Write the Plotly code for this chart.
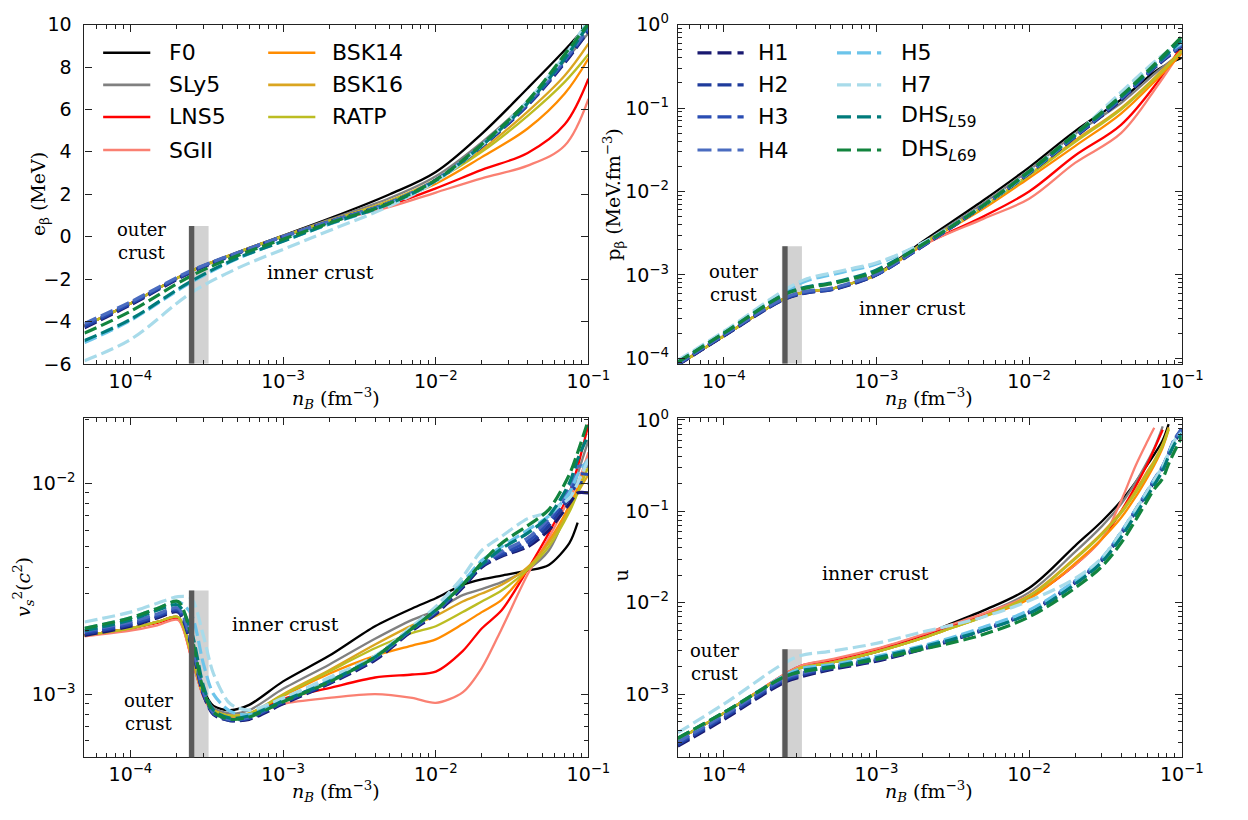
import plotly.graph_objects as go

# ---------------- data ----------------
SOLID = ["F0", "SLy5", "LNS5", "SGII", "BSK14", "BSK16", "RATP"]
DASHED = ["H1", "H2", "H3", "H4", "H5", "H7", "DHS_L59", "DHS_L69"]
LABELS = {"F0": "F0", "SLy5": "SLy5", "LNS5": "LNS5", "SGII": "SGII", "BSK14": "BSK14",
          "BSK16": "BSK16", "RATP": "RATP", "H1": "H1", "H2": "H2", "H3": "H3", "H4": "H4",
          "H5": "H5", "H7": "H7", "DHS_L59": "DHS<sub><i>L</i>59</sub>",
          "DHS_L69": "DHS<sub><i>L</i>69</sub>"}
COLORS = {"F0": "#000000", "SLy5": "#808080", "LNS5": "#ff0000", "SGII": "#fa8072",
          "BSK14": "#ff8c00", "BSK16": "#daa520", "RATP": "#bcbd22",
          "H1": "#191970", "H2": "#1f3c9c", "H3": "#2a4db3", "H4": "#4a6cc0",
          "H5": "#6cc4ea", "H7": "#a8dbea", "DHS_L59": "#007b7b", "DHS_L69": "#12843e"}

# top-left: e_beta (MeV)
X_E = [5e-5, 1e-4, 2.5e-4, 5e-4, 1e-3, 2e-3, 5e-3, 1e-2, 2e-2, 4e-2, 7e-2, 1e-1]
E_BETA = {
    "F0":      [-4.20, -3.15, -1.62, -0.75, 0.05, 0.85, 2.00, 3.05, 4.85, 7.00, 8.80, 10.05],
    "SLy5":    [-4.20, -3.15, -1.62, -0.75, 0.03, 0.80, 1.82, 2.85, 4.45, 6.40, 8.30, 9.60],
    "LNS5":    [-4.20, -3.15, -1.62, -0.76, 0.02, 0.70, 1.50, 2.28, 3.15, 3.95, 5.30, 7.45],
    "SGII":    [-4.20, -3.15, -1.62, -0.76, 0.00, 0.68, 1.40, 2.08, 2.75, 3.35, 4.30, 6.50],
    "BSK14":   [-4.20, -3.15, -1.62, -0.75, 0.02, 0.72, 1.62, 2.50, 3.75, 5.10, 6.75, 8.40],
    "BSK16":   [-4.20, -3.15, -1.62, -0.75, 0.03, 0.75, 1.70, 2.70, 4.10, 5.90, 7.60, 9.10],
    "RATP":    [-4.20, -3.15, -1.62, -0.75, 0.03, 0.74, 1.68, 2.66, 4.00, 5.70, 7.30, 8.60],
    "H1":      [-4.30, -3.22, -1.68, -0.80, 0.00, 0.70, 1.60, 2.65, 4.25, 6.20, 8.20, 9.70],
    "H2":      [-4.25, -3.18, -1.65, -0.79, 0.00, 0.70, 1.60, 2.65, 4.27, 6.22, 8.25, 9.75],
    "H3":      [-4.18, -3.14, -1.63, -0.78, 0.00, 0.70, 1.60, 2.67, 4.30, 6.25, 8.30, 9.80],
    "H4":      [-4.10, -3.08, -1.60, -0.76, 0.01, 0.71, 1.61, 2.68, 4.33, 6.30, 8.35, 9.85],
    "H5":      [-5.00, -3.95, -2.15, -1.05, -0.20, 0.58, 1.55, 2.63, 4.30, 6.35, 8.50, 10.20],
    "H7":      [-5.85, -4.85, -2.65, -1.50, -0.60, 0.28, 1.45, 2.60, 4.30, 6.40, 8.55, 10.20],
    "DHS_L59": [-4.90, -3.90, -2.10, -1.02, -0.22, 0.60, 1.56, 2.65, 4.30, 6.30, 8.40, 10.00],
    "DHS_L69": [-4.55, -3.52, -1.85, -0.90, -0.12, 0.64, 1.58, 2.67, 4.35, 6.40, 8.60, 10.05],
}

# top-right: p_beta (MeV.fm^-3)
X_P = [5e-5, 1e-4, 2.5e-4, 3.5e-4, 5e-4, 7e-4, 1e-3, 2e-3, 5e-3, 1e-2, 2e-2, 4e-2, 7e-2, 1e-1]
P_BETA = {
    "F0":      [8.3e-5, 1.85e-4, 5.2e-4, 6.3e-4, 6.8e-4, 8.0e-4, 1.02e-3, 2.5e-3, 7.8e-3, 1.95e-2, 5.3e-2, 1.26e-1, 2.9e-1, 4.0e-1],
    "SLy5":    [8.3e-5, 1.85e-4, 5.2e-4, 6.3e-4, 6.8e-4, 8.0e-4, 1.01e-3, 2.4e-3, 7.2e-3, 1.8e-2, 4.9e-2, 1.15e-1, 2.8e-1, 4.6e-1],
    "LNS5":    [8.3e-5, 1.85e-4, 5.2e-4, 6.3e-4, 6.8e-4, 8.0e-4, 1.0e-3, 2.25e-3, 5.0e-3, 1.0e-2, 2.7e-2, 6.3e-2, 2.1e-1, 5.6e-1],
    "SGII":    [8.3e-5, 1.85e-4, 5.2e-4, 6.3e-4, 6.8e-4, 8.0e-4, 1.0e-3, 2.25e-3, 4.7e-3, 8.2e-3, 2.2e-2, 5.0e-2, 1.9e-1, 5.0e-1],
    "BSK14":   [8.3e-5, 1.85e-4, 5.2e-4, 6.3e-4, 6.8e-4, 8.0e-4, 1.0e-3, 2.3e-3, 6.2e-3, 1.45e-2, 3.5e-2, 8.6e-2, 2.3e-1, 4.5e-1],
    "BSK16":   [8.3e-5, 1.85e-4, 5.2e-4, 6.3e-4, 6.8e-4, 8.0e-4, 1.0e-3, 2.35e-3, 6.6e-3, 1.6e-2, 4.1e-2, 1.0e-1, 2.55e-1, 5.0e-1],
    "RATP":    [8.3e-5, 1.85e-4, 5.2e-4, 6.3e-4, 6.8e-4, 8.0e-4, 1.0e-3, 2.35e-3, 6.5e-3, 1.55e-2, 3.9e-2, 9.6e-2, 2.45e-1, 4.8e-1],
    "H1":      [8.3e-5, 1.85e-4, 5.1e-4, 6.1e-4, 6.6e-4, 7.8e-4, 1.0e-3, 2.2e-3, 6.7e-3, 1.65e-2, 4.5e-2, 1.25e-1, 3.3e-1, 5.5e-1],
    "H2":      [8.4e-5, 1.87e-4, 5.15e-4, 6.15e-4, 6.65e-4, 7.9e-4, 1.0e-3, 2.2e-3, 6.7e-3, 1.66e-2, 4.55e-2, 1.27e-1, 3.35e-1, 5.6e-1],
    "H3":      [8.5e-5, 1.9e-4, 5.2e-4, 6.2e-4, 6.7e-4, 8.0e-4, 1.01e-3, 2.22e-3, 6.75e-3, 1.67e-2, 4.6e-2, 1.3e-1, 3.4e-1, 5.7e-1],
    "H4":      [8.6e-5, 1.92e-4, 5.3e-4, 6.4e-4, 6.9e-4, 8.2e-4, 1.03e-3, 2.25e-3, 6.8e-3, 1.68e-2, 4.65e-2, 1.32e-1, 3.45e-1, 5.8e-1],
    "H5":      [9.3e-5, 2.05e-4, 6.3e-4, 8.5e-4, 1.0e-3, 1.15e-3, 1.35e-3, 2.4e-3, 6.8e-3, 1.7e-2, 4.8e-2, 1.5e-1, 3.8e-1, 6.0e-1],
    "H7":      [9.5e-5, 2.1e-4, 6.6e-4, 9.0e-4, 1.05e-3, 1.2e-3, 1.4e-3, 2.4e-3, 6.8e-3, 1.7e-2, 4.8e-2, 1.55e-1, 3.9e-1, 6.2e-1],
    "DHS_L59": [9.0e-5, 2.0e-4, 5.9e-4, 7.2e-4, 8.0e-4, 9.3e-4, 1.15e-3, 2.3e-3, 6.8e-3, 1.7e-2, 4.7e-2, 1.35e-1, 3.5e-1, 6.5e-1],
    "DHS_L69": [9.0e-5, 2.0e-4, 5.8e-4, 7.0e-4, 7.8e-4, 9.0e-4, 1.1e-3, 2.3e-3, 6.8e-3, 1.75e-2, 4.9e-2, 1.4e-1, 3.7e-1, 7.2e-1],
}

# bottom-left: v_s^2 (c^2)
X_V = [5e-5, 1e-4, 1.5e-4, 2.05e-4, 2.5e-4, 3e-4, 3.5e-4, 4.5e-4, 6e-4, 1e-3, 2e-3, 4e-3, 7e-3,
       1e-2, 1.5e-2, 2e-2, 2.7e-2, 4e-2, 5.5e-2, 7.5e-2, 8.5e-2, 1e-1]
VS2 = {
    "F0":      [1.90e-3, 2.05e-3, 2.20e-3, 2.30e-3, 1.60e-3, 1.05e-3, 8.8e-4, 8.4e-4, 8.9e-4, 1.15e-3, 1.52e-3, 2.10e-3, 2.55e-3, 2.85e-3, 3.30e-3, 3.50e-3, 3.65e-3, 3.85e-3, 4.10e-3, 5.2e-3, 6.5e-3, None],
    "SLy5":    [1.90e-3, 2.05e-3, 2.20e-3, 2.32e-3, 1.58e-3, 1.03e-3, 8.6e-4, 8.1e-4, 8.4e-4, 1.06e-3, 1.38e-3, 1.83e-3, 2.25e-3, 2.50e-3, 2.95e-3, 3.15e-3, 3.40e-3, 3.90e-3, 4.80e-3, 8.0e-3, 1.1e-2, 1.6e-2],
    "LNS5":    [1.90e-3, 2.05e-3, 2.18e-3, 2.28e-3, 1.50e-3, 9.8e-4, 8.2e-4, 7.8e-4, 8.0e-4, 9.5e-4, 1.07e-3, 1.20e-3, 1.24e-3, 1.28e-3, 1.60e-3, 2.05e-3, 2.50e-3, 3.90e-3, 5.80e-3, 9.0e-3, 1.2e-2, 1.9e-2],
    "SGII":    [1.88e-3, 2.00e-3, 2.12e-3, 2.25e-3, 1.50e-3, 9.8e-4, 8.2e-4, 7.8e-4, 7.9e-4, 9.0e-4, 9.6e-4, 1.00e-3, 9.6e-4, 9.1e-4, 1.02e-3, 1.33e-3, 2.04e-3, 3.70e-3, 5.50e-3, 8.5e-3, 1.0e-2, 1.4e-2],
    "BSK14":   [1.90e-3, 2.05e-3, 2.20e-3, 2.32e-3, 1.55e-3, 1.00e-3, 8.4e-4, 7.9e-4, 8.1e-4, 9.8e-4, 1.25e-3, 1.52e-3, 1.70e-3, 1.82e-3, 2.15e-3, 2.45e-3, 2.80e-3, 3.90e-3, 5.30e-3, 7.8e-3, 9.5e-3, 1.3e-2],
    "BSK16":   [1.90e-3, 2.05e-3, 2.20e-3, 2.32e-3, 1.55e-3, 1.00e-3, 8.4e-4, 7.9e-4, 8.1e-4, 1.00e-3, 1.30e-3, 1.72e-3, 2.12e-3, 2.35e-3, 2.75e-3, 3.00e-3, 3.30e-3, 4.00e-3, 5.20e-3, 7.5e-3, 9.0e-3, 1.1e-2],
    "RATP":    [1.90e-3, 2.05e-3, 2.20e-3, 2.32e-3, 1.55e-3, 1.00e-3, 8.4e-4, 7.9e-4, 8.1e-4, 9.9e-4, 1.28e-3, 1.65e-3, 1.95e-3, 2.10e-3, 2.45e-3, 2.75e-3, 3.10e-3, 3.90e-3, 5.00e-3, 7.3e-3, 9.0e-3, 1.2e-2],
    "H1":      [1.90e-3, 2.10e-3, 2.30e-3, 2.45e-3, 1.70e-3, 1.00e-3, 8.0e-4, 7.5e-4, 7.6e-4, 9.0e-4, 1.12e-3, 1.45e-3, 2.00e-3, 2.40e-3, 3.20e-3, 4.00e-3, 4.50e-3, 5.00e-3, 6.00e-3, 8.0e-3, 9.0e-3, 9.0e-3],
    "H2":      [1.93e-3, 2.13e-3, 2.33e-3, 2.48e-3, 1.73e-3, 1.01e-3, 8.1e-4, 7.5e-4, 7.7e-4, 9.1e-4, 1.13e-3, 1.47e-3, 2.02e-3, 2.43e-3, 3.25e-3, 4.05e-3, 4.55e-3, 5.10e-3, 6.30e-3, 8.5e-3, 1.0e-2, 1.0e-2],
    "H3":      [1.96e-3, 2.16e-3, 2.36e-3, 2.52e-3, 1.76e-3, 1.02e-3, 8.1e-4, 7.6e-4, 7.7e-4, 9.2e-4, 1.14e-3, 1.48e-3, 2.04e-3, 2.45e-3, 3.28e-3, 4.10e-3, 4.65e-3, 5.30e-3, 6.60e-3, 9.0e-3, 1.1e-2, 1.1e-2],
    "H4":      [1.99e-3, 2.20e-3, 2.40e-3, 2.56e-3, 1.80e-3, 1.04e-3, 8.2e-4, 7.6e-4, 7.8e-4, 9.3e-4, 1.15e-3, 1.50e-3, 2.06e-3, 2.48e-3, 3.30e-3, 4.15e-3, 4.75e-3, 5.50e-3, 6.80e-3, 9.5e-3, 1.2e-2, 1.2e-2],
    "H5":      [2.05e-3, 2.30e-3, 2.55e-3, 2.75e-3, 2.40e-3, 1.40e-3, 1.00e-3, 8.3e-4, 8.0e-4, 9.5e-4, 1.18e-3, 1.50e-3, 2.05e-3, 2.50e-3, 3.40e-3, 4.30e-3, 5.00e-3, 6.00e-3, 7.00e-3, 9.0e-3, 1.1e-2, 1.3e-2],
    "H7":      [2.20e-3, 2.45e-3, 2.70e-3, 2.90e-3, 2.85e-3, 1.90e-3, 1.25e-3, 9.0e-4, 8.4e-4, 9.6e-4, 1.20e-3, 1.52e-3, 2.10e-3, 2.60e-3, 3.60e-3, 4.80e-3, 5.60e-3, 6.80e-3, 7.30e-3, 8.5e-3, 1.0e-2, 1.3e-2],
    "DHS_L59": [2.00e-3, 2.25e-3, 2.50e-3, 2.65e-3, 2.00e-3, 1.10e-3, 8.4e-4, 7.7e-4, 7.9e-4, 9.3e-4, 1.15e-3, 1.50e-3, 2.05e-3, 2.50e-3, 3.30e-3, 4.10e-3, 4.90e-3, 5.80e-3, 7.00e-3, 1.0e-2, 1.3e-2, 1.7e-2],
    "DHS_L69": [2.05e-3, 2.30e-3, 2.55e-3, 2.75e-3, 1.90e-3, 1.05e-3, 8.2e-4, 7.6e-4, 7.8e-4, 9.2e-4, 1.14e-3, 1.50e-3, 2.05e-3, 2.50e-3, 3.30e-3, 4.20e-3, 5.20e-3, 6.30e-3, 7.50e-3, 1.1e-2, 1.4e-2, 2.0e-2],
}

# bottom-right: u
X_U = [5e-5, 1e-4, 2.5e-4, 3.2e-4, 5e-4, 1e-3, 2e-3, 3e-3, 5e-3, 1e-2, 2e-2, 3e-2, 4e-2,
       5e-2, 6e-2, 6.6e-2, 7.5e-2, 8.2e-2, 9e-2, 1e-1]
U_FRAC = {
    "F0":      [3.2e-4, 6.2e-4, 1.6e-3, 1.95e-3, 2.2e-3, 2.9e-3, 4.3e-3, 5.8e-3, 8.2e-3, 1.45e-2, 4.2e-2, 7.8e-2, 1.3e-1, 2.1e-1, 3.3e-1, 4.2e-1, 6.0e-1, 9.0e-1, None, None],
    "SLy5":    [3.2e-4, 6.2e-4, 1.6e-3, 1.95e-3, 2.2e-3, 2.9e-3, 4.2e-3, 5.4e-3, 7.5e-3, 1.3e-2, 3.6e-2, 6.9e-2, 1.2e-1, 2.1e-1, 3.6e-1, 4.9e-1, 8.5e-1, None, None, None],
    "LNS5":    [3.2e-4, 6.2e-4, 1.65e-3, 2.05e-3, 2.35e-3, 3.1e-3, 4.4e-3, 5.6e-3, 7.4e-3, 1.15e-2, 2.6e-2, 5.0e-2, 1.0e-1, 1.9e-1, 3.4e-1, 4.8e-1, 7.8e-1, None, None, None],
    "SGII":    [3.2e-4, 6.2e-4, 1.65e-3, 2.05e-3, 2.4e-3, 3.15e-3, 4.5e-3, 5.7e-3, 7.6e-3, 1.2e-2, 2.6e-2, 5.0e-2, 1.3e-1, 3.2e-1, 6.0e-1, 8.2e-1, None, None, None, None],
    "BSK14":   [3.2e-4, 6.2e-4, 1.6e-3, 1.95e-3, 2.2e-3, 2.9e-3, 4.1e-3, 5.2e-3, 7.0e-3, 1.1e-2, 2.7e-2, 5.0e-2, 8.5e-2, 1.45e-1, 2.4e-1, 3.2e-1, 5.0e-1, 7.8e-1, None, None],
    "BSK16":   [3.2e-4, 6.2e-4, 1.6e-3, 1.95e-3, 2.2e-3, 2.9e-3, 4.1e-3, 5.2e-3, 7.1e-3, 1.2e-2, 3.1e-2, 5.8e-2, 1.0e-1, 1.7e-1, 2.8e-1, 3.6e-1, 5.5e-1, 8.3e-1, None, None],
    "RATP":    [3.2e-4, 6.2e-4, 1.6e-3, 1.95e-3, 2.2e-3, 2.9e-3, 4.1e-3, 5.2e-3, 7.0e-3, 1.17e-2, 3.0e-2, 5.6e-2, 9.5e-2, 1.6e-1, 2.6e-1, 3.4e-1, 5.2e-1, 8.0e-1, None, None],
    "H1":      [2.7e-4, 5.3e-4, 1.35e-3, 1.55e-3, 1.85e-3, 2.3e-3, 3.1e-3, 3.8e-3, 5.0e-3, 7.8e-3, 1.65e-2, 2.9e-2, 5.6e-2, 1.0e-1, 1.65e-1, 2.1e-1, 3.0e-1, 4.1e-1, 5.8e-1, 7.8e-1],
    "H2":      [2.8e-4, 5.5e-4, 1.4e-3, 1.6e-3, 1.9e-3, 2.35e-3, 3.15e-3, 3.85e-3, 5.05e-3, 7.9e-3, 1.67e-2, 2.95e-2, 5.7e-2, 1.02e-1, 1.68e-1, 2.15e-1, 3.05e-1, 4.2e-1, 6.0e-1, 8.0e-1],
    "H3":      [2.9e-4, 5.7e-4, 1.45e-3, 1.65e-3, 1.95e-3, 2.4e-3, 3.2e-3, 3.9e-3, 5.1e-3, 8.0e-3, 1.7e-2, 3.0e-2, 5.8e-2, 1.04e-1, 1.7e-1, 2.2e-1, 3.1e-1, 4.3e-1, 6.2e-1, 8.0e-1],
    "H4":      [3.0e-4, 5.9e-4, 1.5e-3, 1.7e-3, 2.0e-3, 2.45e-3, 3.25e-3, 3.95e-3, 5.2e-3, 8.1e-3, 1.72e-2, 3.05e-2, 5.9e-2, 1.06e-1, 1.72e-1, 2.25e-1, 3.15e-1, 4.4e-1, 6.3e-1, 7.8e-1],
    "H5":      [3.3e-4, 6.3e-4, 1.6e-3, 1.9e-3, 2.1e-3, 2.6e-3, 3.4e-3, 4.1e-3, 5.4e-3, 8.3e-3, 1.75e-2, 3.1e-2, 5.9e-2, 1.05e-1, 1.7e-1, 2.2e-1, 3.1e-1, 4.3e-1, 6.0e-1, 7.3e-1],
    "H7":      [3.8e-4, 7.8e-4, 2.2e-3, 2.65e-3, 2.95e-3, 3.6e-3, 4.8e-3, 5.6e-3, 7.0e-3, 1.05e-2, 1.85e-2, 3.1e-2, 5.9e-2, 1.05e-1, 1.7e-1, 2.2e-1, 3.1e-1, 4.3e-1, 6.0e-1, 7.2e-1],
    "DHS_L59": [3.3e-4, 6.3e-4, 1.55e-3, 1.8e-3, 2.0e-3, 2.5e-3, 3.3e-3, 3.9e-3, 5.0e-3, 7.6e-3, 1.6e-2, 2.8e-2, 5.2e-2, 9.3e-2, 1.5e-1, 1.95e-1, 2.8e-1, 4.0e-1, 5.5e-1, 7.0e-1],
    "DHS_L69": [3.3e-4, 6.3e-4, 1.55e-3, 1.75e-3, 1.95e-3, 2.4e-3, 3.1e-3, 3.6e-3, 4.5e-3, 7.0e-3, 1.45e-2, 2.5e-2, 4.5e-2, 8.1e-2, 1.35e-1, 1.75e-1, 2.3e-1, 3.3e-1, 4.6e-1, 6.5e-1],
}

# crust boundary band and axis ticks
BAND_LIGHT = [2.4e-4, 3.25e-4]
BAND_DARK = [2.42e-4, 2.62e-4]
X_TICKS = [1e-4, 1e-3, 1e-2, 1e-1]
X_TICKTEXT = ["10<sup>−4</sup>", "10<sup>−3</sup>", "10<sup>−2</sup>", "10<sup>−1</sup>"]

# ---------------- figure ----------------
W, H = 1248, 820
def px(x): return x / W
def py(y): return 1 - y / H

fig = go.Figure()

panels = [
    ("x", "y", X_E, E_BETA, 1.0),
    ("x2", "y2", X_P, P_BETA, 1.0),
    ("x3", "y3", X_V, VS2, 0.8),
    ("x4", "y4", X_U, U_FRAC, 1.0),
]
for xa, ya, X, data, sm in panels:
    for name in SOLID:
        fig.add_trace(go.Scatter(x=X, y=data[name], mode="lines", name=name,
                                 line=dict(color=COLORS[name], width=2.3, shape="spline", smoothing=sm),
                                 xaxis=xa, yaxis=ya, showlegend=False, connectgaps=False))
    for name in DASHED:
        fig.add_trace(go.Scatter(x=X, y=data[name], mode="lines", name=name,
                                 line=dict(color=COLORS[name], width=3.2, dash="13px,5px",
                                           shape="spline", smoothing=sm),
                                 xaxis=xa, yaxis=ya, showlegend=False, connectgaps=False))

minor_vals = [m * 10.0 ** e for e in range(-5, 0) for m in range(2, 10)]
TICKFONT = dict(family="DejaVu Sans", size=19, color="black")
common = dict(showline=True, linecolor="#222222", linewidth=1.2, mirror="allticks", ticks="inside",
              ticklen=7, tickwidth=1, tickcolor="#222222", showgrid=False, zeroline=False,
              tickfont=TICKFONT)
minor_common = dict(ticks="inside", ticklen=4, tickwidth=1, tickcolor="#222222", showgrid=False,
                    tickmode="array", tickvals=minor_vals)

XR = [-4.301, -1.0]
dom_x_left = [px(86), px(599)]
dom_x_right = [px(690), px(1203)]
dom_y_top = [py(362), py(13)]
dom_y_bot = [py(767), py(418)]

def xaxis_cfg(domain, anchor):
    return dict(type="log", range=XR, domain=domain, anchor=anchor, tickmode="array",
                tickvals=X_TICKS, ticktext=X_TICKTEXT, minor=minor_common,
                ticklabelstandoff=0, **common)

def logy_cfg(domain, anchor, rng, vals, texts):
    return dict(type="log", range=rng, domain=domain, anchor=anchor, tickmode="array",
                tickvals=vals, ticktext=texts, minor=minor_common, ticklabelstandoff=4, **common)

fig.update_layout(
    width=W, height=H, margin=dict(l=0, r=0, t=0, b=0),
    paper_bgcolor="white", plot_bgcolor="white", showlegend=False,
    xaxis=xaxis_cfg(dom_x_left, "y"),
    yaxis=dict(range=[-6, 10], domain=dom_y_top, anchor="x", tickmode="array",
               tickvals=[-6, -4, -2, 0, 2, 4, 6, 8, 10],
               ticktext=["−6", "−4", "−2", "0", "2", "4", "6", "8", "10"],
               ticklabelstandoff=8, **common),
    xaxis2=xaxis_cfg(dom_x_right, "y2"),
    yaxis2=logy_cfg(dom_y_top, "x2", [-4.066, 0.0], [1e-4, 1e-3, 1e-2, 1e-1, 1],
                    ["10<sup>−4</sup>", "10<sup>−3</sup>", "10<sup>−2</sup>", "10<sup>−1</sup>", "10<sup>0</sup>"]),
    xaxis3=xaxis_cfg(dom_x_left, "y3"),
    yaxis3=logy_cfg(dom_y_bot, "x3", [-3.30, -1.692], [1e-3, 1e-2],
                    ["10<sup>−3</sup>", "10<sup>−2</sup>"]),
    xaxis4=xaxis_cfg(dom_x_right, "y4"),
    yaxis4=logy_cfg(dom_y_bot, "x4", [-3.692, 0.018], [1e-3, 1e-2, 1e-1, 1],
                    ["10<sup>−3</sup>", "10<sup>−2</sup>", "10<sup>−1</sup>", "10<sup>0</sup>"]),
)

# crust band on each panel
band_y = [("x", "y", -6, 0.5), ("x2", "y2", 8.59e-5, 2.2e-3),
          ("x3", "y3", 5.0e-4, 3.1e-3), ("x4", "y4", 2.03e-4, 3.1e-3)]
for xa, ya, y0, y1 in band_y:
    fig.add_shape(type="rect", xref=xa, yref=ya, x0=BAND_LIGHT[0], x1=BAND_LIGHT[1], y0=y0, y1=y1,
                  fillcolor="#d2d2d2", line=dict(width=0), layer="below")
    fig.add_shape(type="rect", xref=xa, yref=ya, x0=BAND_DARK[0], x1=BAND_DARK[1], y0=y0, y1=y1,
                  fillcolor="#595959", line=dict(width=0), layer="above")

SERIF = dict(family="DejaVu Serif", size=19, color="black")
def text(x, y, s, font=SERIF, angle=0, xanchor="center"):
    fig.add_annotation(x=px(x), y=py(y), xref="paper", yref="paper", text=s, showarrow=False,
                       font=font, textangle=angle, xanchor=xanchor, yanchor="middle")

# region labels
OUTER = dict(family="DejaVu Serif", size=18, color="black")
for (cx, cy) in [(144, 236), (747, 279), (151, 720), (727, 669)]:
    text(cx, cy, "outer<br>crust", font=OUTER)
text(326, 268, "inner crust")
text(929, 305, "inner crust")
text(291, 630, "inner crust")
text(891, 577, "inner crust")

# axis titles
text(342, 398, "<i>n</i><sub><i>B</i></sub> (fm<sup>−3</sup>)")
text(946, 398, "<i>n</i><sub><i>B</i></sub> (fm<sup>−3</sup>)")
text(342, 802, "<i>n</i><sub><i>B</i></sub> (fm<sup>−3</sup>)")
text(946, 802, "<i>n</i><sub><i>B</i></sub> (fm<sup>−3</sup>)")
text(40, 187, "e<sub>β</sub> (MeV)", angle=-90)
text(625, 187, "p<sub>β</sub> (MeV.fm<sup>−3</sup>)", angle=-90)
text(24, 592, "<i>v</i><sub><i>s</i></sub><sup>2</sup>(<i>c</i><sup>2</sup>)", angle=-90)
text(632, 580, "u", angle=-90)

# manual legends (matplotlib-like, two columns)
LEGFONT = dict(family="DejaVu Sans", size=22, color="black")
rows = [42, 75, 108, 142]
def legend_entry(name, x0, x1, xt, y, dashed):
    fig.add_shape(type="line", xref="paper", yref="paper", x0=px(x0), x1=px(x1), y0=py(y), y1=py(y),
                  line=dict(color=COLORS[name], width=3.2 if dashed else 2.6,
                            dash="14px,6px" if dashed else "solid"))
    text(xt, y, LABELS[name], font=LEGFONT, xanchor="left")

for i, name in enumerate(["F0", "SLy5", "LNS5", "SGII"]):
    legend_entry(name, 105, 153, 170, rows[i], False)
for i, name in enumerate(["BSK14", "BSK16", "RATP"]):
    legend_entry(name, 273, 321, 336, rows[i], False)
for i, name in enumerate(["H1", "H2", "H3", "H4"]):
    legend_entry(name, 710, 757, 770, rows[i], True)
for i, name in enumerate(["H5", "H7", "DHS_L59", "DHS_L69"]):
    legend_entry(name, 852, 897, 915, rows[i], True)

fig.write_html("out.html")
